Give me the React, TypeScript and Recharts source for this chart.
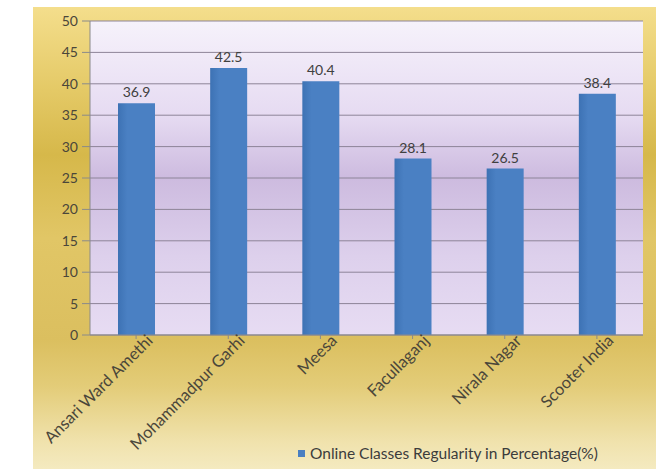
import { BarChart, Bar, XAxis, YAxis, CartesianGrid, LabelList, Legend } from "recharts";

const places = ["Ansari Ward Amethi", "Mohammadpur Garhi", "Meesa", "Facullaganj", "Nirala Nagar", "Scooter India"];
const regularity = [36.9, 42.5, 40.4, 28.1, 26.5, 38.4];
const yTicks = [0, 5, 10, 15, 20, 25, 30, 35, 40, 45, 50];
const seriesName = "Online Classes Regularity in Percentage(%)";

const data = places.map((name, i) => ({ name, value: regularity[i] }));

const font = "Lato, 'Open Sans', sans-serif";

function AngledTick({ x, y, payload }: { x?: number; y?: number; payload?: { value: string } }) {
  return (
    <g transform={`translate(${x},${y})`}>
      <text
        x={0}
        y={0}
        dy={13}
        dx={12}
        textAnchor="end"
        transform="rotate(-45)"
        fill="#4a463a"
        fontSize={16.5}
        fontFamily={font}
      >
        {payload?.value}
      </text>
    </g>
  );
}

function LegendBox() {
  return (
    <div style={{ display: "flex", alignItems: "center", fontFamily: font, fontSize: 15.5, color: "#3c3c3c" }}>
      <span style={{ width: 7, height: 7, background: "#4a7fc1", marginRight: 5, display: "inline-block" }} />
      {seriesName}
    </div>
  );
}

export default function App() {
  return (
    <div style={{ position: "absolute", left: 0, top: 0, width: 656, height: 469, background: "#fff" }}>
      <div
        style={{
          position: "absolute",
          left: 33,
          top: 7,
          width: 623,
          height: 462,
          background:
            "linear-gradient(180deg, #f4de8c 0%, #e4c966 18%, #d6b84a 32%, #e1c666 50%, #dbbf5f 72%, #e3cc78 82%, #f0e2ac 94%, #f4eac0 100%)",
        }}
      >
        <BarChart width={623} height={462} data={data} margin={{ top: 14, right: 13, left: 0, bottom: 0 }}>
          <defs>
            <linearGradient id="plotBg" x1="0" y1="0" x2="0" y2="1">
              <stop offset="0%" stopColor="#f6f2fb" />
              <stop offset="30%" stopColor="#e6dbf2" />
              <stop offset="50%" stopColor="#cdbbdf" />
              <stop offset="75%" stopColor="#ddd0ec" />
              <stop offset="100%" stopColor="#e7dcf3" />
            </linearGradient>
            <linearGradient id="barFill" x1="0" y1="0" x2="1" y2="0">
              <stop offset="0%" stopColor="#3d72b4" />
              <stop offset="25%" stopColor="#4a80c3" />
              <stop offset="100%" stopColor="#4a80c3" />
            </linearGradient>
          </defs>
          <CartesianGrid vertical={false} stroke="#8d8498" fill="url(#plotBg)" fillOpacity={1} />
          <XAxis
            dataKey="name"
            interval={0}
            height={112}
            tick={<AngledTick />}
            axisLine={{ stroke: "#8a8a8a" }}
            tickLine={{ stroke: "#8a8a8a" }}
            tickSize={4}
          />
          <YAxis
            width={57}
            domain={[0, 50]}
            ticks={yTicks}
            interval={0}
            tick={{ fill: "#4a463a", fontSize: 14, fontFamily: font }}
            axisLine={{ stroke: "#8a8a8a" }}
            tickLine={{ stroke: "#8a8a8a" }}
            tickSize={8}
            tickMargin={4}
          />
          <Legend content={<LegendBox />} wrapperStyle={{ left: 265, bottom: 3, width: "auto" }} height={22} />
          <Bar dataKey="value" name={seriesName} fill="url(#barFill)" barSize={37} isAnimationActive={false}>
            <LabelList dataKey="value" position="top" offset={6} fill="#404040" fontSize={14} fontFamily={font} />
          </Bar>
        </BarChart>
      </div>
    </div>
  );
}
